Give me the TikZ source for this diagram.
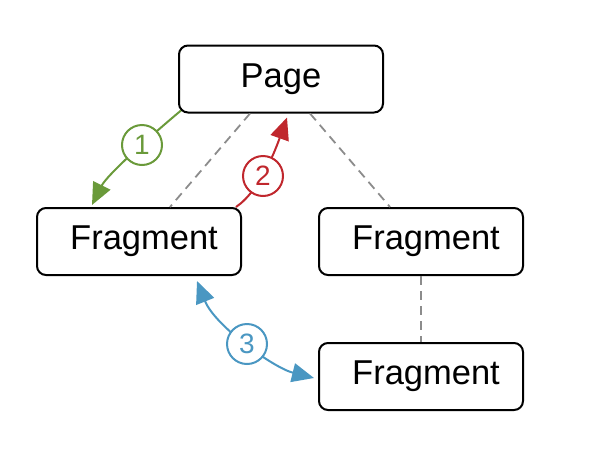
\documentclass[tikz,border=0pt]{standalone}
\usepackage{fontspec}
\setmainfont{Liberation Sans}
\usetikzlibrary{arrows.meta}
\definecolor{cgreen}{HTML}{6A9A3A}
\definecolor{cred}{HTML}{C0272D}
\definecolor{cblue}{HTML}{4A97C2}
\definecolor{cgray}{HTML}{8C8C8C}
\begin{document}
\begin{tikzpicture}[x=1pt,y=-1pt,
  box/.style={draw=black, line width=2pt, rounded corners=9pt, fill=white,
    minimum width=204pt, minimum height=67pt, inner sep=0pt, font=\fontsize{34.5}{40}\selectfont},
  lbl/.style={yshift=-2pt},
  dashline/.style={draw=cgray, line width=1.8pt, dash pattern=on 9pt off 6pt},
  conn/.style={line width=2pt, -{Triangle[length=22pt,width=19pt]}},
  badge/.style={circle, draw, line width=2pt, fill=white, minimum size=40pt, inner sep=0pt,
    font=\fontsize{28}{32}\selectfont}]
\useasboundingbox (0,0) rectangle (596,461);

\node[box] (page) at (281,79) {\raisebox{-2pt}{Page}};
\node[box] (frag1) at (139,241.5) {\raisebox{-2pt}{\hspace*{10pt}Fragment}};
\node[box] (frag2) at (421,241.5) {\raisebox{-2pt}{\hspace*{10pt}Fragment}};
\node[box] (frag3) at (421,376.5) {\raisebox{-2pt}{\hspace*{10pt}Fragment}};

% dashed hierarchy lines
\draw[dashline] ([xshift=-31pt]page.south) -- ([xshift=31pt]frag1.north);
\draw[dashline] ([xshift=29pt]page.south) -- ([xshift=-31pt]frag2.north);
\draw[dashline] (frag2.south) -- (frag3.north);

% green arrow 1
\draw[conn, cgreen] ([xshift=3pt,yshift=3pt]page.south west)
  .. controls +(-30,25) and +(15,-30) .. ([xshift=-47pt,yshift=2pt]frag1.north);
\node[badge, draw=cgreen, text=cgreen] (b1) at (142,145) {1};

% red arrow 2
\draw[conn, cred] ([xshift=-6pt]frag1.north east)
  .. controls +(25,-17) and +(-10,28) .. ([xshift=6pt,yshift=-4pt]page.south);
\node[badge, draw=cred, text=cred] (b2) at (263,176) {2};

% blue arrow 3
\draw[line width=2pt, cblue, {Triangle[length=22pt,width=19pt]}-{Triangle[length=22pt,width=19pt]}]
  ([xshift=58pt,yshift=-5pt]frag1.south)
  .. controls +(18,45) and +(-40,-10) .. ([xshift=-4pt,yshift=-1.5pt]frag3.west);
\node[badge, draw=cblue, text=cblue] (b3) at (247,344) {3};
\end{tikzpicture}
\end{document}
